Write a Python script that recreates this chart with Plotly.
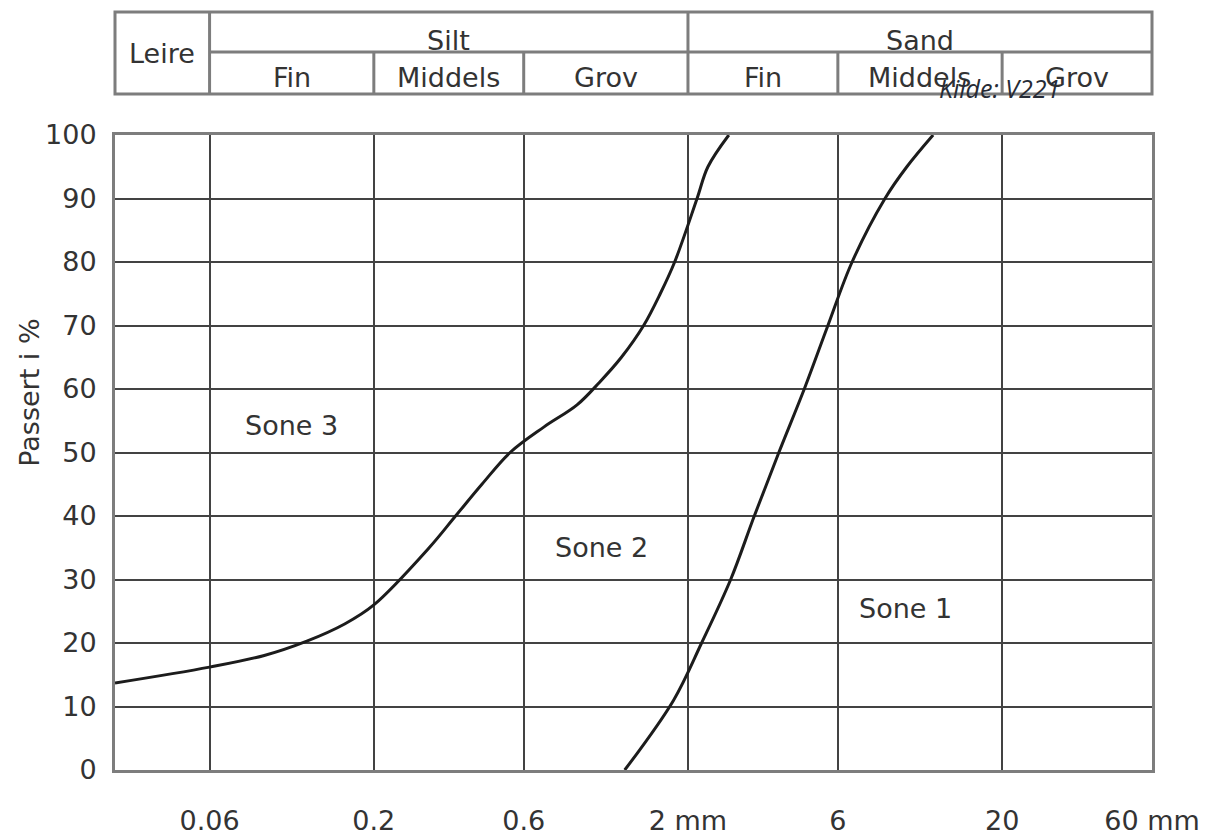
import numpy as np
import plotly.graph_objects as go

# Grain size axis (mm, logarithmic)
tick_vals = [0.06, 0.2, 0.6, 2, 6, 20, 60]
tick_text = ["0.06", "0.2", "0.6", "2 mm", "6", "20", "60 mm"]
x_min, x_max = 0.03, 60

# Percent passing axis
y_ticks = list(range(0, 101, 10))

# Boundary curve between Sone 3 and Sone 2
grense_23_mm = [0.03, 0.06, 0.089, 0.1224, 0.1615, 0.2, 0.3, 0.364, 0.4417, 0.543,
                0.695, 0.887, 1.043, 1.228, 1.445, 1.632, 1.814, 2.138, 2.315, 2.698]
grense_23_pct = [13.7, 16.2, 18, 20.3, 23, 26, 35, 40, 45, 50,
                 54, 57.5, 61, 65, 70, 75, 80, 90, 95, 100]

# Boundary curve between Sone 2 and Sone 1
grense_12_mm = [1.258, 1.8, 2.21, 2.735, 3.252, 3.893, 4.691, 5.578, 6.66, 8.476, 9.95, 12.06]
grense_12_pct = [0, 11, 20, 30, 40, 50, 60, 70, 80, 90, 95, 100]

# Zone labels (x in mm, y in %)
sone_navn = ["Sone 3", "Sone 2", "Sone 1"]
sone_mm = [0.109, 1.06, 9.87]
sone_pct = [54.3, 35.1, 25.5]

# Soil classification header
hoved_navn = ["Leire", "Silt", "Sand"]
hoved_grenser = [(0.03, 0.06), (0.06, 2), (2, 60)]
under_navn = ["Fin", "Middels", "Grov", "Fin", "Middels", "Grov"]
under_grenser = [(0.06, 0.2), (0.2, 0.6), (0.6, 2), (2, 6), (6, 20), (20, 60)]

FONT = "DejaVu Sans"
FS = 27
TEXT = "#333333"
GRID = "#434343"
FRAME = "#7d7d7d"

# Header table geometry, in paper units above the plot area
TAB_TOP, TAB_MID, TAB_BOT = 1.1937, 1.1307, 1.0646
TXT_LEIRE, TXT_RAD1, TXT_RAD2 = 1.1276, 1.1496, 1.0913
KILDE_Y = 1.074
# Y-axis title placement (paper units)
TITTEL_X, TITTEL_Y = -0.082, 0.594

fig = go.Figure()
for xs, ys in [(grense_23_mm, grense_23_pct), (grense_12_mm, grense_12_pct)]:
    fig.add_trace(go.Scatter(
        x=xs, y=ys, mode="lines",
        line=dict(color="#1c1c1c", width=3, shape="spline", smoothing=1.0),
        hoverinfo="skip", showlegend=False))

fig.update_xaxes(
    type="log", range=[np.log10(x_min), np.log10(x_max)],
    tickvals=tick_vals, ticktext=tick_text, automargin=False,
    showgrid=True, gridcolor=GRID, gridwidth=2,
    zeroline=False, showline=True, linecolor=FRAME, linewidth=3, mirror=True,
    ticks="", ticklabelstandoff=25,
    tickfont=dict(family=FONT, size=FS, color=TEXT))
fig.update_yaxes(
    range=[0, 100], tickvals=y_ticks, automargin=False,
    showgrid=True, gridcolor=GRID, gridwidth=2,
    zeroline=False, showline=True, linecolor=FRAME, linewidth=3, mirror=True,
    ticks="", ticklabelstandoff=10,
    tickfont=dict(family=FONT, size=FS, color=TEXT))

shapes = [dict(type="rect", xref="paper", yref="paper", x0=0, x1=1,
               y0=TAB_BOT, y1=TAB_TOP, line=dict(color=FRAME, width=3))]
shapes.append(dict(type="line", xref="x", yref="paper", x0=hoved_grenser[1][0],
                   x1=hoved_grenser[2][1], y0=TAB_MID, y1=TAB_MID,
                   line=dict(color=FRAME, width=3)))
for a, b in hoved_grenser[1:]:
    shapes.append(dict(type="line", xref="x", yref="paper", x0=a, x1=a,
                       y0=TAB_BOT, y1=TAB_TOP, line=dict(color=FRAME, width=3)))
for a, b in under_grenser:
    if a not in (hoved_grenser[1][0], hoved_grenser[2][0]):
        shapes.append(dict(type="line", xref="x", yref="paper", x0=a, x1=a,
                           y0=TAB_BOT, y1=TAB_MID, line=dict(color=FRAME, width=3)))

annotations = []
for navn, (a, b) in zip(hoved_navn, hoved_grenser):
    y = TXT_LEIRE if navn == "Leire" else TXT_RAD1
    annotations.append(dict(text=navn, xref="x", yref="paper",
                            x=(np.log10(a) + np.log10(b)) / 2, y=y,
                            xanchor="center", yanchor="middle", showarrow=False,
                            font=dict(family=FONT, size=FS, color=TEXT)))
for navn, (a, b) in zip(under_navn, under_grenser):
    annotations.append(dict(text=navn, xref="x", yref="paper",
                            x=(np.log10(a) + np.log10(b)) / 2, y=TXT_RAD2,
                            xanchor="center", yanchor="middle", showarrow=False,
                            font=dict(family=FONT, size=FS, color=TEXT)))
for navn, xm, yp in zip(sone_navn, sone_mm, sone_pct):
    annotations.append(dict(text=navn, xref="x", yref="y", x=np.log10(xm), y=yp,
                            xanchor="center", yanchor="middle", showarrow=False,
                            font=dict(family=FONT, size=FS, color=TEXT)))
annotations.append(dict(text="Passert i %", xref="paper", yref="paper",
                        x=TITTEL_X, y=TITTEL_Y, textangle=-90,
                        xanchor="center", yanchor="middle", showarrow=False,
                        font=dict(family=FONT, size=FS, color=TEXT)))
annotations.append(dict(text="<i>Kilde: V221</i>", xref="paper", yref="paper",
                        x=0.853, y=KILDE_Y, xanchor="center", yanchor="middle",
                        showarrow=False,
                        font=dict(family="Open Sans", size=25, color="#262b36")))

fig.update_layout(
    width=1217, height=838,
    margin=dict(l=115, r=65, t=135, b=68),
    paper_bgcolor="white", plot_bgcolor="white",
    shapes=shapes, annotations=annotations,
    showlegend=False)

fig.write_html("out.html")
